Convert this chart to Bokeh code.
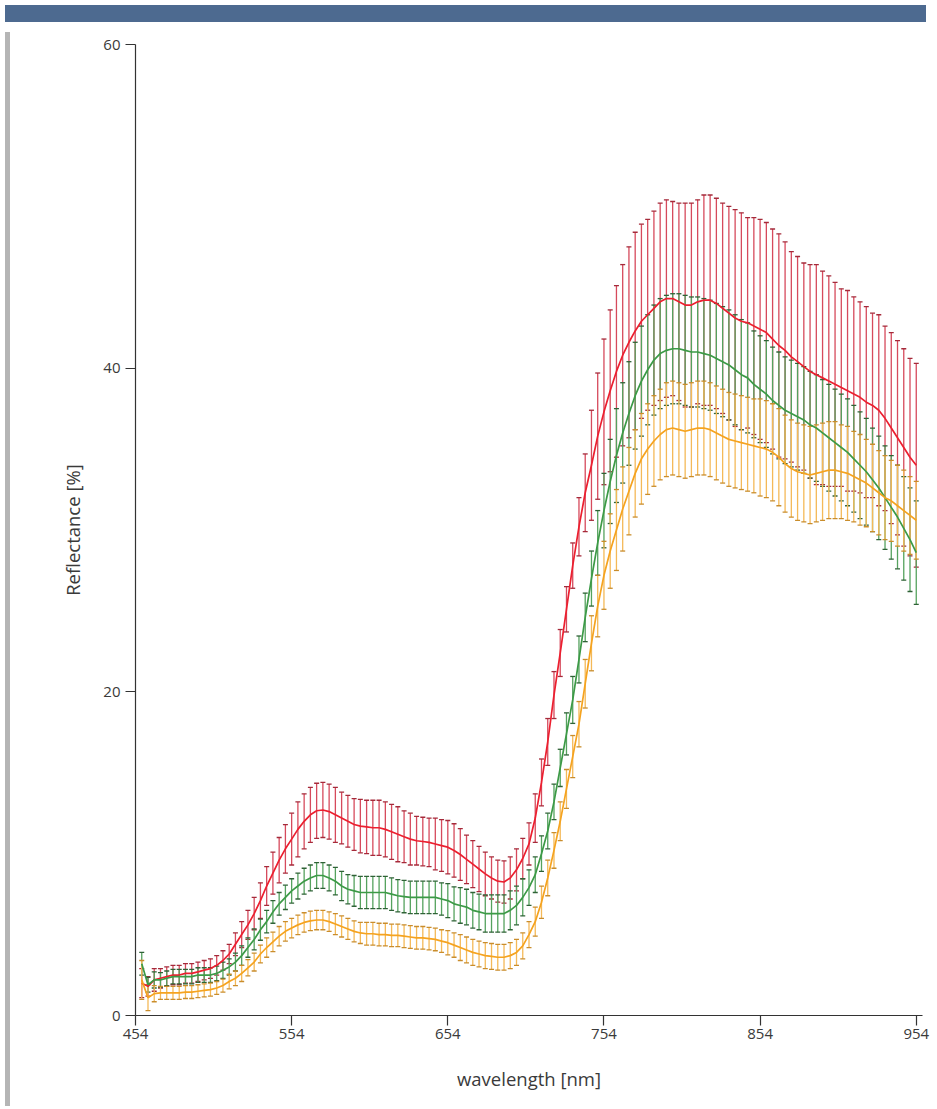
from bokeh.plotting import figure
from bokeh.models import Div, Range1d, FixedTicker
from bokeh.layouts import column, row
from bokeh.embed import file_html
from bokeh.resources import INLINE

# wavelength grid (nm), sampled every 4 nm
wavelengths = list(range(458, 955, 4))

red_mean = [
    2.0, 1.8, 2.2, 2.3, 2.4, 2.5, 2.5, 2.6, 2.6, 2.7,
    2.8, 2.9, 3.1, 3.4, 3.8, 4.4, 5.0, 5.6, 6.3, 7.1,
    8.0, 8.8, 9.6, 10.3, 10.9, 11.5, 12.0, 12.4, 12.65, 12.7,
    12.6, 12.4, 12.2, 12.0, 11.8, 11.7, 11.65, 11.6, 11.6, 11.5,
    11.35, 11.2, 11.05, 10.9, 10.8, 10.75, 10.7, 10.6, 10.5, 10.4,
    10.2, 9.95, 9.65, 9.35, 9.05, 8.75, 8.5, 8.3, 8.25, 8.5,
    9.0, 9.7, 10.6, 12.2, 14.4, 16.9, 19.8, 22.4, 25.1, 27.8,
    30.2, 32.3, 34.0, 35.8, 37.3, 38.6, 39.8, 40.8, 41.6, 42.3,
    42.9, 43.3, 43.7, 44.1, 44.3, 44.3, 44.1, 43.9, 43.9, 44.1,
    44.2, 44.2, 44.0, 43.7, 43.4, 43.1, 42.9, 42.8, 42.6, 42.4,
    42.2, 41.8, 41.4, 41.1, 40.7, 40.4, 40.1, 39.8, 39.6, 39.4,
    39.2, 39.0, 38.8, 38.6, 38.4, 38.2, 37.9, 37.7, 37.4, 36.9,
    36.3, 35.7, 35.1, 34.5, 34.0,
]
red_err = [
    0.9, 0.6, 0.7, 0.6, 0.6, 0.6, 0.6, 0.6, 0.6, 0.6,
    0.6, 0.6, 0.6, 0.6, 0.6, 0.7, 0.8, 0.9, 1.0, 1.1,
    1.2, 1.3, 1.4, 1.5, 1.6, 1.7, 1.7, 1.7, 1.7, 1.7,
    1.7, 1.7, 1.6, 1.6, 1.6, 1.65, 1.65, 1.7, 1.7, 1.7,
    1.7, 1.7, 1.6, 1.6, 1.5, 1.5, 1.5, 1.6, 1.6, 1.65,
    1.65, 1.6, 1.5, 1.45, 1.4, 1.35, 1.3, 1.3, 1.3, 1.3,
    1.3, 1.25, 1.3, 1.5, 1.45, 1.45, 1.45, 1.45, 1.4, 1.4,
    1.8, 2.4, 3.4, 3.9, 4.5, 5.0, 5.3, 5.6, 5.9, 6.1,
    6.0, 5.9, 6.0, 6.1, 6.1, 6.0, 6.1, 6.3, 6.3, 6.3,
    6.5, 6.5, 6.5, 6.5, 6.6, 6.7, 6.7, 6.5, 6.7, 6.8,
    6.8, 6.8, 6.9, 6.7, 6.5, 6.5, 6.4, 6.6, 6.8, 6.6,
    6.5, 6.3, 6.1, 6.2, 6.0, 5.9, 5.9, 5.7, 5.9, 5.7,
    5.9, 6.0, 6.1, 6.1, 6.3,
]
green_mean = [
    3.2, 1.9, 2.2, 2.2, 2.3, 2.4, 2.4, 2.4, 2.4, 2.5,
    2.5, 2.5, 2.6, 2.8, 3.0, 3.3, 3.7, 4.2, 4.7, 5.3,
    5.8, 6.4, 6.9, 7.3, 7.7, 8.0, 8.3, 8.5, 8.65, 8.65,
    8.5, 8.3, 8.0, 7.8, 7.7, 7.6, 7.6, 7.6, 7.6, 7.6,
    7.5, 7.4, 7.35, 7.3, 7.3, 7.3, 7.3, 7.3, 7.2, 7.1,
    6.9, 6.8, 6.7, 6.5, 6.4, 6.3, 6.3, 6.3, 6.3, 6.5,
    6.8, 7.3, 7.9, 8.7, 10.0, 11.4, 13.2, 15.3, 17.4, 19.5,
    22.0, 24.6, 27.0, 29.2, 31.2, 33.0, 34.6, 36.0, 37.2, 38.3,
    39.2, 39.9, 40.5, 40.9, 41.1, 41.2, 41.2, 41.1, 41.0, 41.0,
    40.9, 40.8, 40.6, 40.4, 40.2, 39.9, 39.6, 39.4, 39.0, 38.7,
    38.4, 38.0, 37.7, 37.4, 37.2, 37.0, 36.8, 36.5, 36.3, 36.0,
    35.7, 35.4, 35.1, 34.8, 34.4, 34.0, 33.6, 33.1, 32.6, 32.0,
    31.4, 30.8, 30.1, 29.4, 28.6,
]
green_err = [
    0.7, 0.45, 0.5, 0.45, 0.45, 0.45, 0.45, 0.45, 0.45, 0.45,
    0.45, 0.45, 0.45, 0.5, 0.5, 0.55, 0.6, 0.6, 0.65, 0.65,
    0.7, 0.7, 0.7, 0.75, 0.75, 0.8, 0.8, 0.8, 0.8, 0.8,
    0.8, 0.85, 0.9, 0.9, 0.95, 1.0, 1.0, 1.0, 1.0, 1.0,
    1.0, 1.0, 1.0, 1.0, 1.0, 1.0, 1.0, 1.0, 1.0, 1.05,
    1.05, 1.1, 1.1, 1.1, 1.1, 1.15, 1.15, 1.15, 1.15, 1.2,
    1.2, 1.15, 1.1, 1.1, 1.1, 1.1, 1.1, 1.15, 1.3, 1.45,
    1.45, 1.5, 1.7, 2.0, 2.3, 2.6, 2.9, 3.1, 3.2, 3.3,
    3.4, 3.4, 3.4, 3.4, 3.4, 3.4, 3.4, 3.4, 3.4, 3.4,
    3.4, 3.4, 3.4, 3.4, 3.4, 3.4, 3.4, 3.4, 3.3, 3.3,
    3.3, 3.3, 3.3, 3.3, 3.3, 3.3, 3.3, 3.3, 3.3, 3.3,
    3.3, 3.3, 3.3, 3.3, 3.3, 3.3, 3.3, 3.2, 3.2, 3.2,
    3.2, 3.2, 3.2, 3.2, 3.2,
]
orange_mean = [
    2.2, 1.1, 1.35, 1.4, 1.4, 1.4, 1.4, 1.45, 1.45, 1.5,
    1.55, 1.6, 1.7, 1.85, 2.1, 2.3, 2.6, 2.95, 3.3, 3.8,
    4.2, 4.55, 4.9, 5.2, 5.4, 5.6, 5.75, 5.85, 5.9, 5.9,
    5.8, 5.65, 5.5, 5.35, 5.2, 5.1, 5.05, 5.05, 5.0, 5.0,
    4.95, 4.95, 4.9, 4.85, 4.8, 4.8, 4.75, 4.7, 4.6, 4.5,
    4.35, 4.2, 4.05, 3.9, 3.8, 3.7, 3.65, 3.6, 3.6, 3.7,
    3.9, 4.3, 5.0, 5.8, 7.0, 8.5, 10.2, 12.0, 14.0, 16.0,
    18.0, 20.5, 23.0, 25.3, 27.2, 28.7, 30.0, 31.3, 32.4, 33.5,
    34.4, 35.0, 35.5, 35.9, 36.2, 36.3, 36.2, 36.1, 36.2, 36.3,
    36.3, 36.2, 36.0, 35.8, 35.6, 35.5, 35.4, 35.3, 35.2, 35.1,
    35.0, 34.8, 34.5, 34.1, 33.8, 33.6, 33.5, 33.4, 33.5, 33.6,
    33.7, 33.7, 33.6, 33.5, 33.3, 33.1, 32.9, 32.6, 32.3, 32.0,
    31.8, 31.5, 31.2, 30.9, 30.6,
]
orange_err = [
    1.2, 0.8, 0.5, 0.4, 0.4, 0.4, 0.4, 0.4, 0.4, 0.4,
    0.4, 0.4, 0.4, 0.4, 0.45, 0.45, 0.5, 0.5, 0.55, 0.55,
    0.6, 0.6, 0.6, 0.6, 0.6, 0.6, 0.6, 0.6, 0.6, 0.6,
    0.6, 0.65, 0.65, 0.65, 0.65, 0.65, 0.7, 0.7, 0.7, 0.7,
    0.7, 0.7, 0.7, 0.7, 0.7, 0.7, 0.7, 0.7, 0.7, 0.75,
    0.75, 0.8, 0.8, 0.8, 0.8, 0.8, 0.8, 0.8, 0.8, 0.8,
    0.8, 0.8, 0.8, 0.9, 1.0, 1.1, 1.1, 1.2, 1.2, 1.3,
    1.4, 1.5, 1.7, 1.9, 2.1, 2.3, 2.5, 2.6, 2.7, 2.7,
    2.8, 2.8, 2.8, 2.8, 2.9, 2.9, 2.9, 2.9, 2.9, 2.9,
    2.9, 2.9, 2.9, 2.9, 2.9, 2.9, 2.9, 2.9, 2.9, 3.0,
    3.0, 3.0, 3.0, 3.0, 3.0, 3.0, 3.0, 3.0, 3.0, 3.0,
    3.0, 3.0, 2.9, 2.9, 2.8, 2.8, 2.7, 2.7, 2.6, 2.6,
    2.5, 2.5, 2.5, 2.4, 2.4,
]

x_ticks = [454, 554, 654, 754, 854, 954]
y_ticks = [0, 20, 40, 60]

series = [
    # mean, err, line colour, bar colour, cap colour
    (red_mean, red_err, "#ec1f2f", "#d64a5c", "#a52a3a"),
    (green_mean, green_err, "#3c9a46", "#55a25e", "#2f6236"),
    (orange_mean, orange_err, "#f5a31f", "#f4b958", "#c98d2c"),
]

FONT = "Open Sans"
TXT = "#3a3a3a"

p = figure(
    width=916, height=1074,
    x_range=Range1d(454, 958), y_range=Range1d(0, 60),
    output_backend="svg", toolbar_location=None,
    min_border_left=120, min_border_right=9,
    min_border_top=17, min_border_bottom=86,
)
p.outline_line_color = None
p.grid.visible = False
p.background_fill_color = "white"
p.border_fill_color = "white"

for ax in (p.xaxis[0], p.yaxis[0]):
    ax.axis_line_color = "#333333"
    ax.axis_line_width = 1.2
    ax.major_tick_line_color = "#333333"
    ax.major_tick_line_width = 1.2
    ax.major_tick_in = 0
    ax.major_tick_out = 10
    ax.minor_tick_line_color = None
    ax.major_label_text_font = FONT
    ax.major_label_text_font_size = "15px"
    ax.major_label_text_color = TXT
    ax.axis_label_text_font = FONT
    ax.axis_label_text_font_size = "18.5px"
    ax.axis_label_text_font_style = "normal"
    ax.axis_label_text_color = TXT

p.xaxis.ticker = FixedTicker(ticks=x_ticks)
p.yaxis.ticker = FixedTicker(ticks=y_ticks)
p.xaxis.axis_label = "wavelength [nm]"
p.yaxis.axis_label = "Reflectance [%]"
p.xaxis.major_label_standoff = 3
p.yaxis.major_label_standoff = 5
p.xaxis.axis_label_standoff = 24
p.yaxis.axis_label_standoff = 15

# error bars (red, then green, then orange on top)
for mean, err, lc, bc, cc in series:
    lo = [m - e for m, e in zip(mean, err)]
    hi = [m + e for m, e in zip(mean, err)]
    p.segment(x0=wavelengths, y0=lo, x1=wavelengths, y1=hi,
              line_color=bc, line_width=1.3)
    p.scatter(x=wavelengths + wavelengths, y=lo + hi, marker="dash",
              size=5, line_color=cc, line_width=1.3)

# mean curves
for mean, err, lc, bc, cc in series:
    p.line(x=wavelengths, y=mean, line_color=lc, line_width=1.7)

header = Div(text="", width=921, height=17,
             styles={"background-color": "#4d6a90"})
side = Div(text="", width=5, height=1074,
           styles={"background-color": "#b5b5b5"})

layout = column(header, row(side, p, spacing=0), spacing=0)

with open("out.html", "w") as f:
    f.write(file_html(layout, INLINE))
